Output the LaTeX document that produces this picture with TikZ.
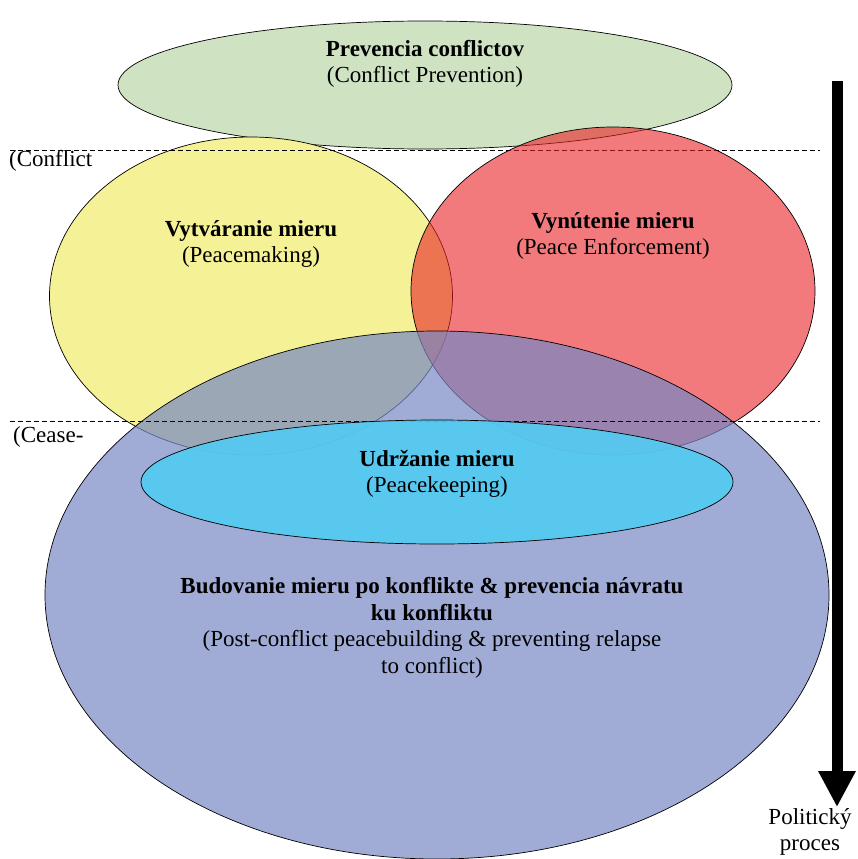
\documentclass[tikz,border=0pt]{standalone}
\usepackage{fontspec}
\setmainfont{Liberation Serif}
\usetikzlibrary{shapes.geometric,arrows.meta,positioning}

\definecolor{prevgreen}{RGB}{207,227,195}
\definecolor{makeyellow}{RGB}{245,241,150}
\definecolor{enfred}{RGB}{233,33,38}
\definecolor{buildblue}{RGB}{119,137,197}
\definecolor{keepcyan}{RGB}{82,203,243}

\begin{document}
\begin{tikzpicture}[x=1pt, y=-1pt, node distance=.3cm, font=\fontsize{23}{26.5}\selectfont]

            % Define block styles
            \tikzstyle{zone} = [ellipse, draw=black, line width=0.7pt, inner sep=0pt]
            \tikzstyle{caption} = [align=center, inner sep=1pt]
            \tikzstyle{level} = [draw, line width=0.8pt, dash pattern=on 5pt off 3pt]
            \tikzstyle{flow} = [draw, line width=11pt, -{Triangle[length=36pt,width=35pt]}]

            \useasboundingbox (0,0) rectangle (858,859);

            % Zones
            \node [zone, fill=prevgreen, minimum width=614pt, minimum height=128pt] (prevention) at (425,85) {};
            \node [zone, fill=makeyellow, minimum width=403pt, minimum height=318pt] (making) at (251,296) {};
            \coordinate (conf_l) at (10,150);
            \coordinate (conf_r) at (820,150);
            \path [level] (conf_l) -- (conf_r);
            \node [zone, fill=enfred, fill opacity=0.6, minimum width=404pt, minimum height=328pt] (enforcement) at (613,291) {};
            \node [zone, fill=buildblue, fill opacity=0.7, minimum width=784pt, minimum height=528pt] (building) at (437,595) {};
            \coordinate (cease_l) at (10,421);
            \coordinate (cease_r) at (820,421);
            \path [level] (cease_l) -- (cease_r);
            \node [zone, fill=keepcyan, fill opacity=0.9, minimum width=592pt, minimum height=124pt] (keeping) at (437,482) {};

            % Labels
            \node [caption] (prevention_t) at (425,64) {\textbf{Prevencia conflictov}\\(Conflict Prevention)};
            \node [caption] (making_t) at (251,244) {\textbf{Vytváranie mieru}\\(Peacemaking)};
            \node [caption] (enforcement_t) at (613,236) {\textbf{Vynútenie mieru}\\(Peace Enforcement)};
            \node [caption] (keeping_t) at (437,474) {\textbf{Udržanie mieru}\\(Peacekeeping)};
            \node [caption] (building_t) at (432,628) {\textbf{Budovanie mieru po konflikte \& prevencia návratu}\\\textbf{ku konfliktu}\\(Post-conflict peacebuilding \& preventing relapse\\to conflict)};
            \node [caption, anchor=west] (conf_t) at (8,161) {(Conflict};
            \node [caption, anchor=west] (cease_t) at (12,437) {(Cease-};
            \node [caption] (process_t) at (810,832) {Politický\\proces};

            % Arrows
            \coordinate (flow_top) at (837,81);
            \path [flow] (flow_top) -- (flow_top |- process_t.north);

        \end{tikzpicture}
\end{document}
